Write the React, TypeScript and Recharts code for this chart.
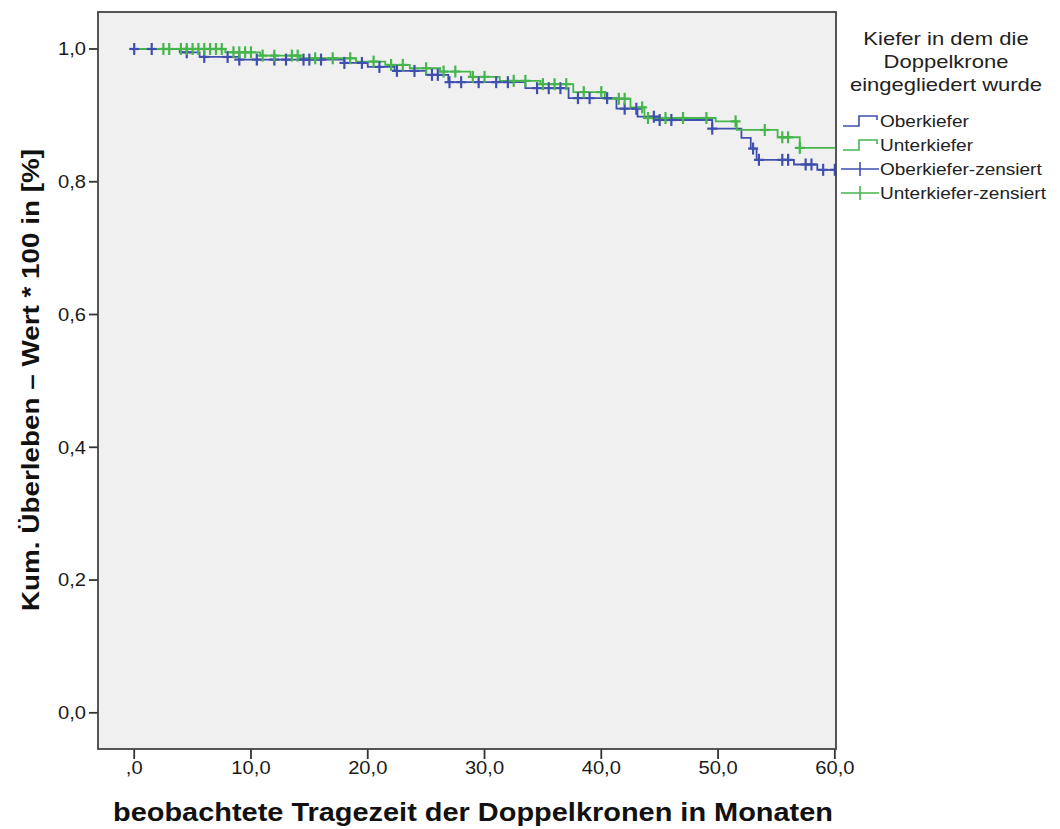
import { CartesianGrid, ComposedChart, Line, Scatter, XAxis, YAxis } from "recharts";

// Kaplan-Meier steps: time in months and cumulative survival from that time on
const obTimes = [0, 3.9, 5.6, 9.0, 18.0, 20.0, 22.3, 25.0, 26.9, 33.5, 37.2, 41.3, 43.1, 45.0, 49.5, 52.0, 52.8, 53.3, 56.5, 58.5, 60];
const obSurv = [1.0, 0.995, 0.988, 0.984, 0.979, 0.973, 0.967, 0.961, 0.95, 0.941, 0.926, 0.91, 0.898, 0.893, 0.88, 0.866, 0.85, 0.833, 0.826, 0.818, 0.818];

const ukTimes = [0, 7.8, 10.8, 14.2, 19.0, 21.5, 23.6, 26.2, 28.8, 31.3, 34.8, 37.6, 40.3, 42.5, 43.7, 49.8, 51.6, 55.1, 57.0, 60];
const ukSurv = [1.0, 0.995, 0.99, 0.986, 0.981, 0.976, 0.971, 0.966, 0.958, 0.952, 0.947, 0.935, 0.925, 0.912, 0.896, 0.891, 0.878, 0.867, 0.851, 0.851];

// censored observations (months)
const obCensored = [0, 1.5, 4.5, 6, 8, 9, 10.5, 12, 13, 14.5, 15, 16, 18, 19.5, 21, 22.5, 24, 25.5, 26, 27, 28, 29.5, 31, 32, 34.5, 35.5, 36.5, 38, 39, 40.5, 42, 43, 44.5, 45, 46, 49.5, 53, 53.5, 55.5, 56, 57.5, 58, 59, 60];
const ukCensored = [2.5, 3, 4, 4.5, 5, 5.5, 6, 6.5, 7, 7.5, 8.5, 9, 9.5, 10, 11, 12, 13.5, 14, 15.5, 17, 18.5, 20.5, 22, 23, 25, 26.5, 27.5, 29, 30, 32.5, 33.5, 35, 36, 37, 38.5, 40, 41.5, 42, 43.5, 44, 45.5, 47, 49, 51.5, 54, 55.5, 56, 57];

const xTicks = [0, 10, 20, 30, 40, 50, 60];
const yTicks = [0, 0.2, 0.4, 0.6, 0.8, 1.0];

const legendTitle = ["Kiefer in dem die", "Doppelkrone", "eingegliedert wurde"];
const legendItems = ["Oberkiefer", "Unterkiefer", "Oberkiefer-zensiert", "Unterkiefer-zensiert"];

const BLUE = "#3f4fad";
const GREEN = "#45b54c";
const FONT = "'Liberation Sans', Arial, sans-serif";
const SX = 1.12; // the SPSS export is a little wide, so text gets stretched

function survivalAt(times: number[], surv: number[], t: number) {
  let s = surv[0];
  for (let i = 0; i < times.length; i++) {
    if (times[i] <= t) s = surv[i];
  }
  return s;
}

const obSteps = obTimes.map((t, i) => ({ t, s: obSurv[i] }));
const ukSteps = ukTimes.map((t, i) => ({ t, s: ukSurv[i] }));
const obMarks = obCensored.map((t) => ({ t, s: survivalAt(obTimes, obSurv, t) }));
const ukMarks = ukCensored.map((t) => ({ t, s: survivalAt(ukTimes, ukSurv, t) }));

const xFmt = (v: number) => (v === 0 ? ",0" : v.toFixed(1).replace(".", ","));
const yFmt = (v: number) => v.toFixed(1).replace(".", ",");

function XTick(props: any) {
  const { x, y, payload } = props;
  return (
    <text transform={`translate(${x},${y}) scale(${SX},1)`} textAnchor="middle" dy="0.71em" fontSize={18} fontFamily={FONT} fill="#1a1a1a">
      {xFmt(payload.value)}
    </text>
  );
}

function YTick(props: any) {
  const { x, y, payload } = props;
  return (
    <text transform={`translate(${x - 1},${y}) scale(${SX},1)`} textAnchor="end" dy="0.355em" fontSize={18} fontFamily={FONT} fill="#1a1a1a">
      {yFmt(payload.value)}
    </text>
  );
}

function censorShape(color: string) {
  return (props: any) => {
    const { cx, cy } = props;
    return (
      <g stroke={color} strokeWidth={2.2}>
        <line x1={cx - 5} x2={cx + 5} y1={cy} y2={cy} />
        <line x1={cx} x2={cx} y1={cy - 6} y2={cy + 6} />
      </g>
    );
  };
}

const W = 1044;
const H = 821;

export default function App() {
  return (
    <div style={{ position: "relative", width: W, height: H, background: "#fff" }}>
      <ComposedChart width={W} height={H} margin={{ top: 4, right: 216, bottom: 40, left: 30 }}>
        <CartesianGrid fill="#f0f0f0" horizontal={false} vertical={false} />
        <XAxis
          type="number"
          dataKey="t"
          domain={[-3.1, 60.1]}
          ticks={xTicks}
          allowDataOverflow
          height={40}
          axisLine={false}
          tickLine={{ stroke: "#333", strokeWidth: 1.8 }}
          tickSize={10}
          tick={<XTick />}
        />
        <YAxis
          type="number"
          dataKey="s"
          domain={[-0.0545, 1.0557]}
          ticks={yTicks}
          allowDataOverflow
          width={60}
          axisLine={false}
          tickLine={{ stroke: "#333", strokeWidth: 1.8 }}
          tickSize={9}
          tick={<YTick />}
        />
        <Line data={obSteps} dataKey="s" type="stepAfter" stroke={BLUE} strokeWidth={1.8} dot={false} isAnimationActive={false} />
        <Line data={ukSteps} dataKey="s" type="stepAfter" stroke={GREEN} strokeWidth={1.8} dot={false} isAnimationActive={false} />
        <Scatter data={obMarks} dataKey="s" shape={censorShape(BLUE)} isAnimationActive={false} />
        <Scatter data={ukMarks} dataKey="s" shape={censorShape(GREEN)} isAnimationActive={false} />
      </ComposedChart>

      <svg width={W} height={H} style={{ position: "absolute", left: 0, top: 0, pointerEvents: "none" }} fontFamily={FONT}>
        <rect x={90} y={4} width={738} height={737} fill="none" stroke="#444" strokeWidth={1.8} />
        <text
          x={22}
          y={372}
          transform="rotate(-90 22 372)"
          textAnchor="middle"
          dominantBaseline="central"
          fontSize={24}
          fontWeight="bold"
          fill="#111"
          textLength={462}
          lengthAdjust="spacingAndGlyphs"
        >
          Kum. Überleben – Wert * 100 in [%]
        </text>
        <text x={465} y={813} textAnchor="middle" fontSize={26} fontWeight="bold" fill="#111" textLength={720} lengthAdjust="spacingAndGlyphs">
          beobachtete Tragezeit der Doppelkronen in Monaten
        </text>
        {legendTitle.map((line, i) => (
          <text
            key={line}
            transform={`translate(938,${30 + i * 23}) scale(1.16,1)`}
            textAnchor="middle"
            dominantBaseline="central"
            fontSize={19}
            fill="#222"
          >
            {line}
          </text>
        ))}
        {legendItems.map((label, i) => {
          const y = 113 + i * 24;
          const color = i % 2 === 0 ? BLUE : GREEN;
          return (
            <g key={label}>
              {i < 2 ? (
                <path d={`M835,${y + 5}H851V${y - 5}H869V${y - 1}`} fill="none" stroke={color} strokeWidth={1.6} />
              ) : (
                <g stroke={color} strokeWidth={1.6}>
                  <line x1={833} x2={871} y1={y} y2={y} />
                  <line x1={852} x2={852} y1={y - 7} y2={y + 7} />
                </g>
              )}
              <text transform={`translate(872,${y}) scale(1.12,1)`} dominantBaseline="central" fontSize={17} fill="#222">
                {label}
              </text>
            </g>
          );
        })}
      </svg>
    </div>
  );
}
